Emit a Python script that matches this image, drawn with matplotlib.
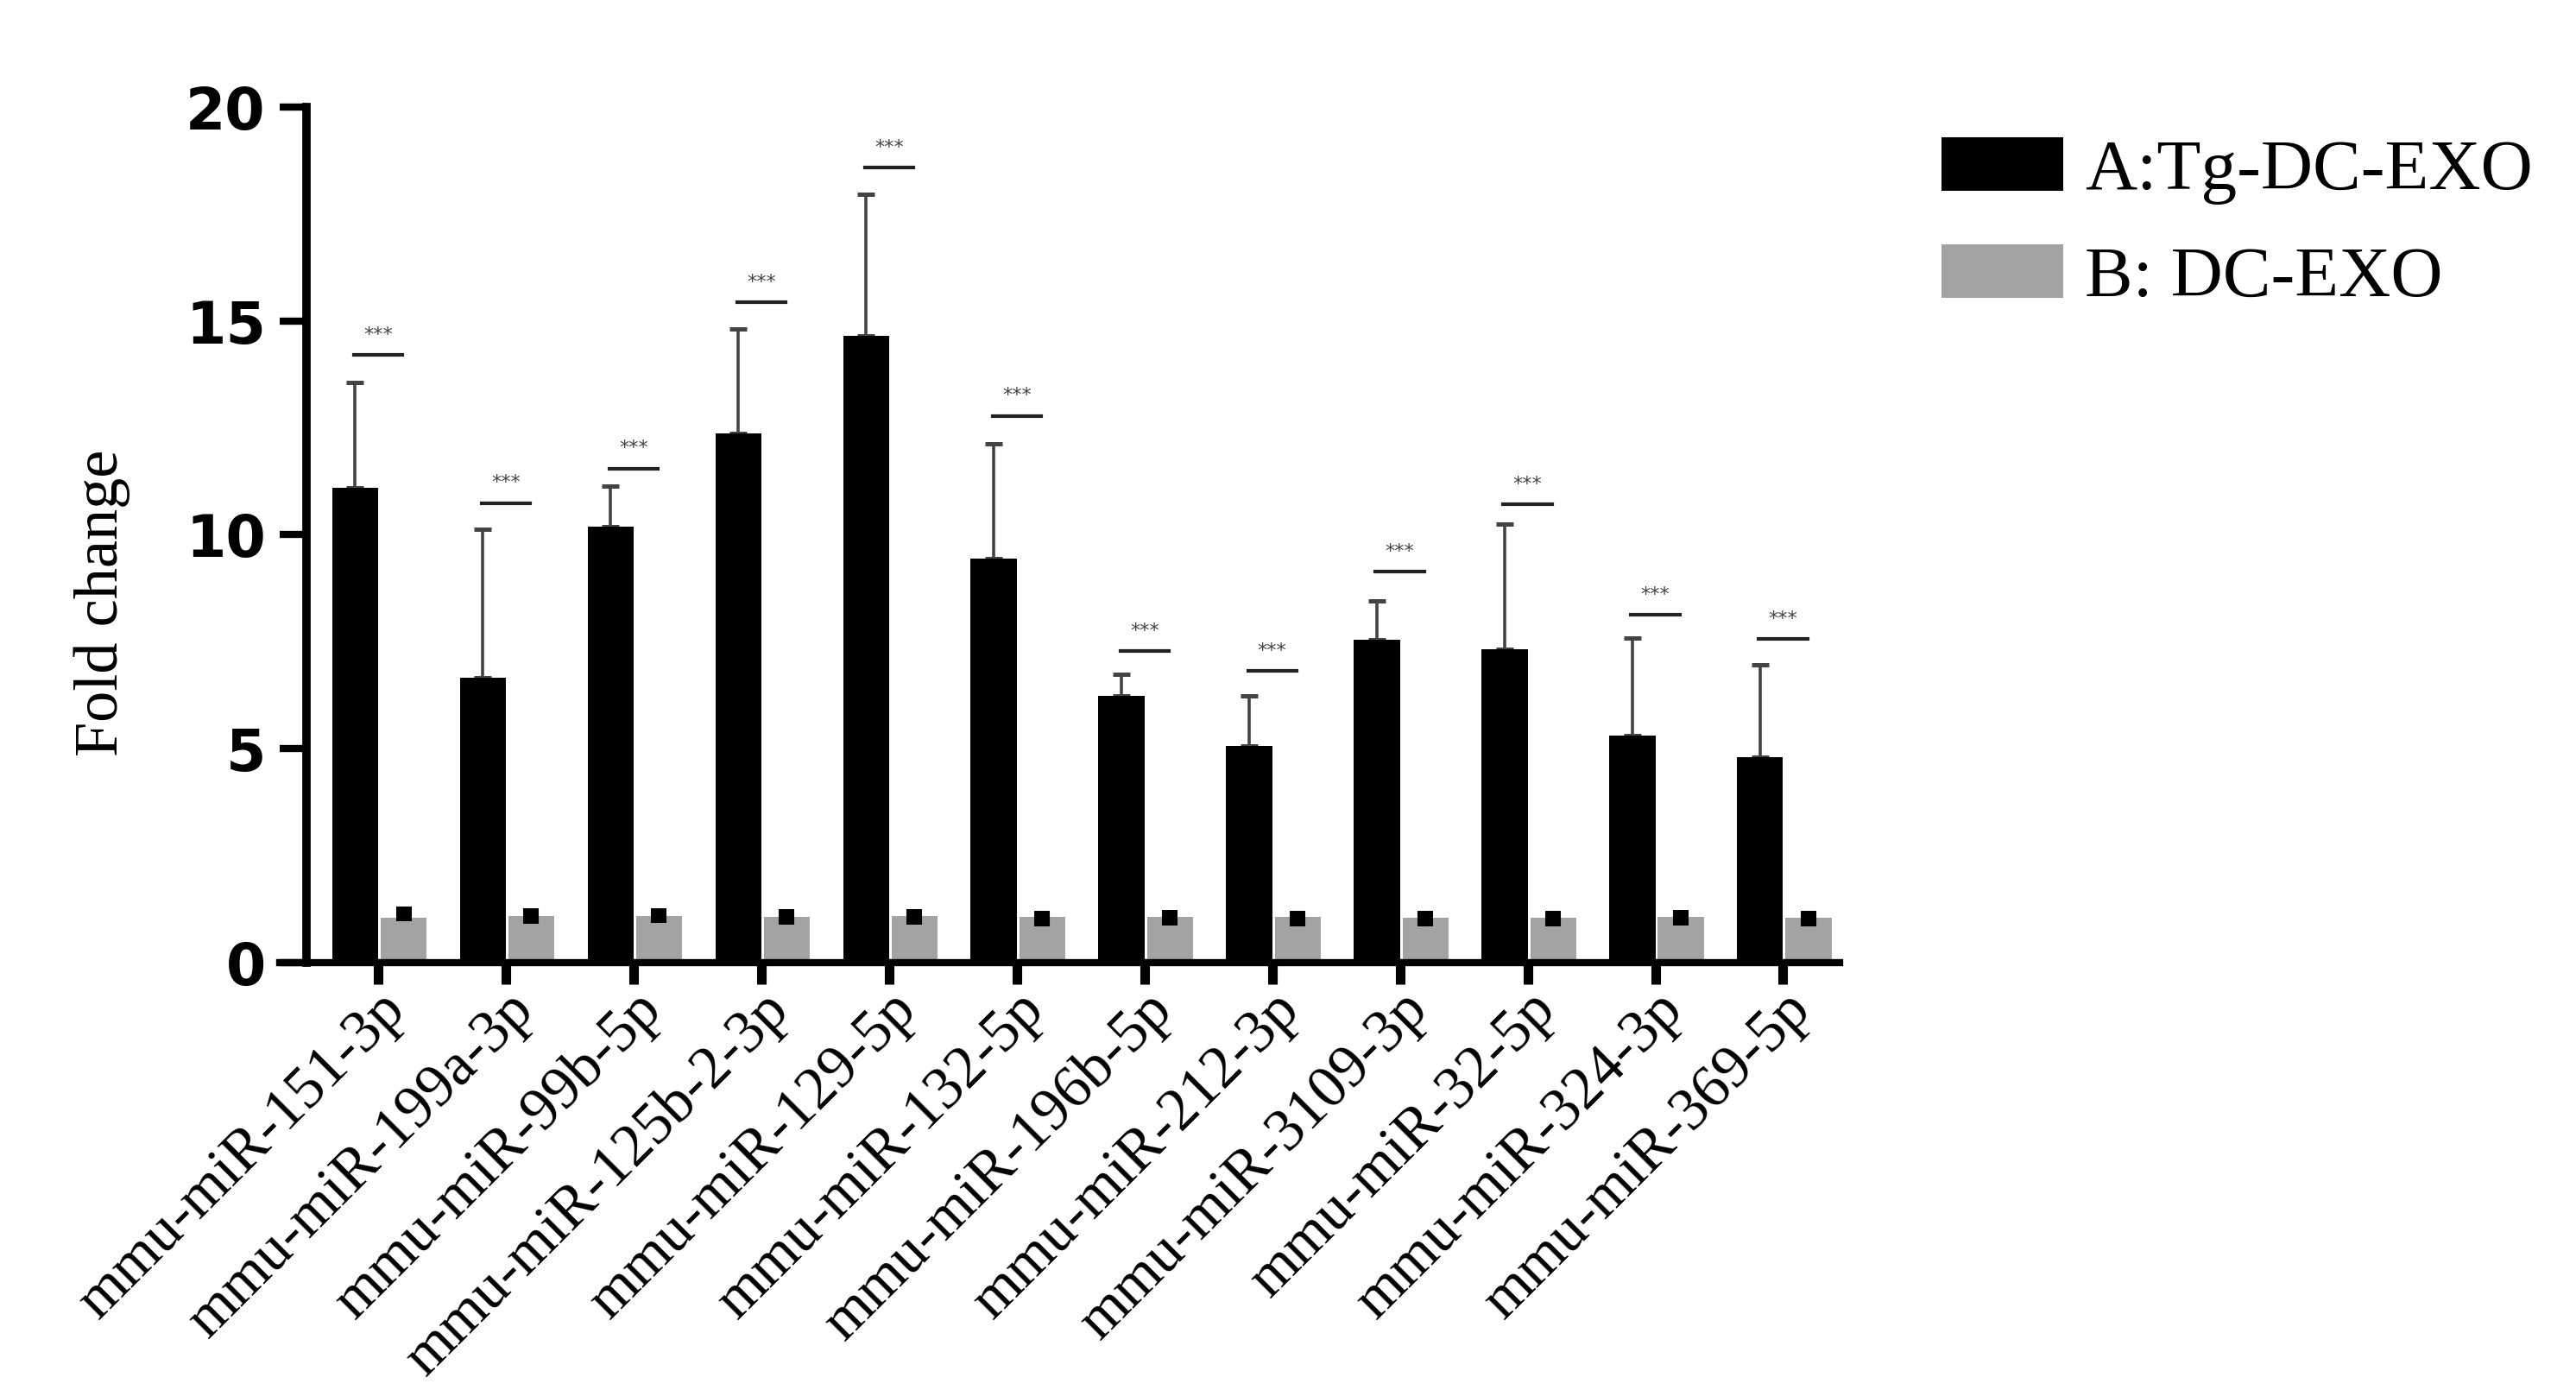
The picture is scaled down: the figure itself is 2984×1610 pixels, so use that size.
import numpy as np
import matplotlib
matplotlib.use("Agg")
import matplotlib.pyplot as plt

labels = ["mmu-miR-151-3p", "mmu-miR-199a-3p", "mmu-miR-99b-5p", "mmu-miR-125b-2-3p",
          "mmu-miR-129-5p", "mmu-miR-132-5p", "mmu-miR-196b-5p", "mmu-miR-212-3p",
          "mmu-miR-3109-3p", "mmu-miR-32-5p", "mmu-miR-324-3p", "mmu-miR-369-5p"]

tg_mean = [11.1, 6.65, 10.2, 12.38, 14.65, 9.44, 6.24, 5.06, 7.55, 7.32, 5.3, 4.8]
tg_err = [2.47, 3.48, 0.93, 2.44, 3.32, 2.69, 0.49, 1.18, 0.91, 2.93, 2.29, 2.17]
dc_mean = [1.05, 1.08, 1.09, 1.07, 1.08, 1.06, 1.07, 1.06, 1.05, 1.04, 1.06, 1.05]
dc_center = [1.14, 1.08, 1.1, 1.06, 1.07, 1.03, 1.05, 1.03, 1.02, 1.02, 1.04, 1.02]
dc_err = [0.18] * 12
sig_y = [14.2, 10.74, 11.55, 15.43, 18.58, 12.78, 7.28, 6.82, 9.14, 10.71, 8.13, 7.57]

serif = "Liberation Serif"
w = 0.36
x = np.arange(len(labels))

fig = plt.figure(figsize=(29.84, 16.10), dpi=100)
ax = fig.add_axes([0.119, 0.3075, 0.595, 0.6155])

b1 = ax.bar(x - w / 2, tg_mean, w, color="black", zorder=2, label="A:Tg-DC-EXO")
b2 = ax.bar(x + 0.02 + w / 2, dc_mean, w, color="#a3a3a3", zorder=2, label="B: DC-EXO")

# upper error only for the black bars
ax.errorbar(x - w / 2, tg_mean, yerr=[np.zeros(len(x)), tg_err], fmt="none",
            ecolor="#444444", elinewidth=2.6, capsize=7.5, capthick=3.6, zorder=1)
ax.errorbar(x + 0.02 + w / 2, dc_center, yerr=dc_err, fmt="none", ecolor="black",
            elinewidth=13, capsize=0, zorder=3)

# significance marks
for xi, yi in zip(x, sig_y):
    ax.plot([xi - 0.19, xi + 0.19], [yi, yi], color="#222222", lw=3, zorder=3)
    ax.text(xi, yi + 0.47, "***", ha="center", va="center", fontsize=16,
            color="#444444")

ax.set_xlim(-0.56, 11.44)
ax.set_ylim(0, 20)
ax.set_yticks([0, 5, 10, 15, 20])
ax.set_xticks(x)
ax.set_xticklabels(labels, rotation=45, ha="right", va="top",
                   rotation_mode="anchor", fontsize=50, family=serif)
for t in ax.get_yticklabels():
    t.set_fontweight("bold")
    t.set_fontsize(48)

for s in ["top", "right"]:
    ax.spines[s].set_visible(False)
ax.spines["left"].set_linewidth(7)
ax.spines["bottom"].set_linewidth(6)
ax.spines["bottom"].set_bounds(-0.77, 11.44)
ax.tick_params(axis="y", length=22, width=6, pad=12)
ax.tick_params(axis="x", length=18, width=8, pad=-2)

ax.set_ylabel("Fold change", fontsize=52, family=serif)
ax.yaxis.set_label_coords(-0.115, 0.42)

fig.legend(handles=[b1, b2], loc="upper left", bbox_to_anchor=(0.7537, 0.901),
           frameon=False, prop={"family": serif, "size": 60},
           handlelength=1.69, handleheight=0.76, handletextpad=0.3,
           labelspacing=0.55, borderpad=0, borderaxespad=0)

fig.savefig("out.png", dpi=100, facecolor="white")
